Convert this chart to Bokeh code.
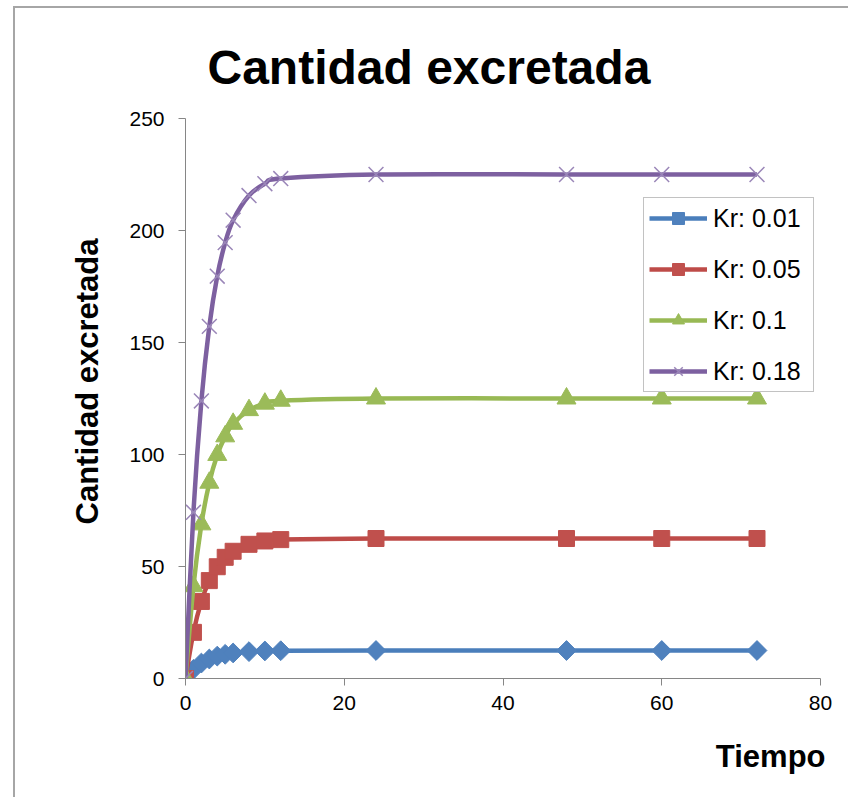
import math
import numpy as np
from bokeh.plotting import figure
from bokeh.models import (Range1d, FixedTicker, Legend, LegendItem, Title,
                          ColumnDataSource)
from bokeh.embed import file_html
from bokeh.resources import INLINE

# Amount excreted over time for four renal elimination constants (Kr)
tiempo = [0, 1, 2, 3, 4, 5, 6, 8, 10, 12, 24, 48, 60, 72]
kr_001 = [0, 4.1, 6.9, 8.7, 10.0, 10.8, 11.4, 12.0, 12.3, 12.4, 12.5, 12.5, 12.5, 12.5]
kr_005 = [0, 20.6, 34.4, 43.7, 49.9, 54.1, 56.8, 59.9, 61.4, 62.0, 62.5, 62.5, 62.5, 62.5]
kr_01 = [0, 41.2, 68.8, 87.4, 99.8, 108.1, 113.7, 119.8, 122.7, 124.0, 125.0, 125.0, 125.0, 125.0]
kr_018 = [0, 74.2, 123.9, 157.2, 179.6, 194.6, 204.6, 215.6, 220.9, 223.2, 225.0, 225.0, 225.0, 225.0]

series_labels = ["Kr: 0.01", "Kr: 0.05", "Kr: 0.1", "Kr: 0.18"]
x_ticks = [0, 20, 40, 60, 80]
y_ticks = [0, 50, 100, 150, 200, 250]

FONT = "Liberation Sans, Arial, sans-serif"


def smooth_segments(xs, ys):
    """Cubic Bezier pieces through the points (Catmull-Rom style smoothing)."""
    x = np.asarray(xs, dtype=float)
    y = np.asarray(ys, dtype=float)
    xp = np.concatenate([[x[0]], x, [x[-1]]])
    yp = np.concatenate([[y[0]], y, [y[-1]]])
    i = np.arange(len(x) - 1)
    return dict(
        x0=x[i], y0=y[i], x1=x[i + 1], y1=y[i + 1],
        cx0=x[i] + (xp[i + 2] - xp[i]) / 6.0,
        cy0=y[i] + (yp[i + 2] - yp[i]) / 6.0,
        cx1=x[i + 1] - (xp[i + 3] - xp[i + 1]) / 6.0,
        cy1=y[i + 1] - (yp[i + 3] - yp[i + 1]) / 6.0,
    )


p = figure(width=835, height=791, output_backend="svg", toolbar_location=None,
           x_range=Range1d(0, 80), y_range=Range1d(0, 250),
           min_border_left=170, min_border_right=30,
           min_border_top=110, min_border_bottom=121)

# chart-area frame: grey rule along the top and left edges
p.styles = {"margin-left": "13px", "margin-top": "6px",
            "border-top": "2px solid #a6a6a6", "border-left": "2px solid #a6a6a6"}

p.background_fill_color = "white"
p.border_fill_color = "white"
p.outline_line_color = None
p.grid.visible = False

for ax in (p.xaxis[0], p.yaxis[0]):
    ax.axis_line_color = "#868686"
    ax.axis_line_width = 1
    ax.major_tick_line_color = "#868686"
    ax.major_tick_out = 7
    ax.major_tick_in = 0
    ax.minor_tick_line_color = None
    ax.major_label_text_font = FONT
    ax.major_label_text_font_size = "21px"
    ax.major_label_text_color = "black"

p.xaxis[0].ticker = FixedTicker(ticks=x_ticks)
p.yaxis[0].ticker = FixedTicker(ticks=y_ticks)
p.xaxis[0].major_label_standoff = 10
p.yaxis[0].major_label_standoff = 14

styles = [
    dict(line="#4A7EBB", fill="#4F81BD", marker="square", size=14, angle=math.pi / 4, lw=1),
    dict(line="#BE4B48", fill="#C0504D", marker="square", size=16, angle=0.0, lw=1),
    dict(line="#98B954", fill="#9BBB59", marker="triangle", size=19, angle=0.0, lw=1),
    dict(line="#7D60A0", fill=None, marker="x", size=21, angle=0.0, lw=1.5),
]

items = []
for ys, label, st in zip([kr_001, kr_005, kr_01, kr_018], series_labels, styles):
    seg = ColumnDataSource(smooth_segments(tiempo, ys))
    curve = p.bezier(x0="x0", y0="y0", x1="x1", y1="y1",
                     cx0="cx0", cy0="cy0", cx1="cx1", cy1="cy1",
                     source=seg, line_color=st["line"], line_width=4.5)
    pts = ColumnDataSource(dict(x=tiempo, y=ys))
    if st["fill"] is None:
        marks = p.scatter("x", "y", source=pts, marker=st["marker"], size=st["size"],
                          line_color="#9A86B8", line_width=st["lw"])
    else:
        marks = p.scatter("x", "y", source=pts, marker=st["marker"], size=st["size"],
                          angle=st["angle"], fill_color=st["fill"],
                          line_color=st["fill"], line_width=st["lw"])
    items.append(LegendItem(label=label, renderers=[curve, marks]))

legend = Legend(items=items, location=(458, 286), orientation="vertical",
                glyph_width=58, glyph_height=30, label_height=30, label_width=95,
                spacing=21, padding=5, margin=0, label_standoff=6,
                label_text_font=FONT, label_text_font_size="25px",
                label_text_color="black",
                border_line_color="#868686", border_line_width=1,
                background_fill_color="white", background_fill_alpha=1.0)
p.add_layout(legend)

# Chart title (above), y-axis title (left) and x-axis title (below)
p.add_layout(Title(text="Cantidad excretada", align="left", offset=22, standoff=50,
                   vertical_align="bottom",
                   text_font=FONT, text_font_size="48px", text_font_style="bold",
                   text_color="black"), "above")
p.add_layout(Title(text="Cantidad excretada", align="left", offset=154, standoff=44,
                   text_font=FONT, text_font_size="31px", text_font_style="bold",
                   text_color="black"), "left")
p.add_layout(Title(text="Tiempo", align="right", offset=-5, standoff=49,
                   vertical_align="bottom",
                   text_font=FONT, text_font_size="31px", text_font_style="bold",
                   text_color="black"), "below")

open("out.html", "w").write(file_html(p, INLINE))
